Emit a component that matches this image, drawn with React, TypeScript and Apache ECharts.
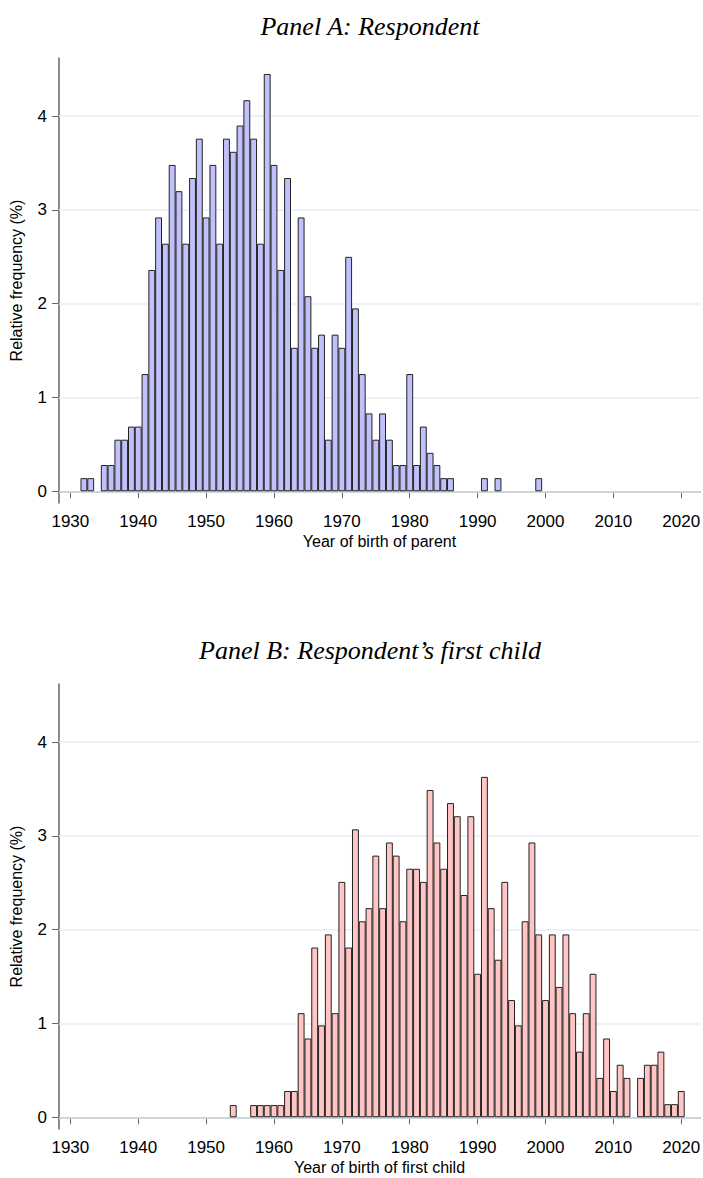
import { useEffect, useRef } from 'react';
import * as echarts from 'echarts';

const parentStartYear = 1932;
// relative frequency (%) per birth year, 1932..1999
const parentValues = [
  0.14, 0.14, 0, 0.28, 0.28, 0.55, 0.55, 0.69, 0.69, 1.25,
  2.36, 2.92, 2.64, 3.48, 3.2, 2.64, 3.34, 3.76, 2.92, 3.48,
  2.64, 3.76, 3.62, 3.9, 4.17, 3.76, 2.64, 4.45, 3.48, 2.36,
  3.34, 1.53, 2.92, 2.08, 1.53, 1.67, 0.55, 1.67, 1.53, 2.5,
  1.95, 1.25, 0.83, 0.55, 0.83, 0.55, 0.28, 0.28, 1.25, 0.28,
  0.69, 0.41, 0.28, 0.14, 0.14, 0, 0, 0, 0, 0.14,
  0, 0.14, 0, 0, 0, 0, 0, 0.14,
];

const childStartYear = 1954;
// relative frequency (%) per birth year, 1954..2020
const childValues = [
  0.13, 0, 0, 0.13, 0.13, 0.13, 0.13, 0.13, 0.28, 0.28,
  1.11, 0.84, 1.81, 0.98, 1.95, 1.11, 2.51, 1.81, 3.07, 2.09,
  2.23, 2.79, 2.23, 2.93, 2.79, 2.09, 2.65, 2.65, 2.51, 3.49,
  2.93, 2.65, 3.35, 3.21, 2.37, 3.21, 1.53, 3.63, 2.23, 1.68,
  2.51, 1.25, 0.98, 2.09, 2.93, 1.95, 1.25, 1.95, 1.39, 1.95,
  1.11, 0.7, 1.11, 1.53, 0.42, 0.84, 0.28, 0.56, 0.42, 0,
  0.42, 0.56, 0.56, 0.7, 0.14, 0.14, 0.28,
];

const xTicks = [1930, 1940, 1950, 1960, 1970, 1980, 1990, 2000, 2010, 2020];
const yTicks = [0, 1, 2, 3, 4];

const toPairs = (start: number, vals: number[]) =>
  vals.map((v, i) => [start + i, v]).filter((p) => p[1] > 0);

const SANS = '"Liberation Sans", Arial, sans-serif';
const SERIF = '"Liberation Serif", "Times New Roman", serif';

export default function App() {
  const ref = useRef<HTMLDivElement>(null);

  useEffect(() => {
    document.body.style.margin = '0';
    if (!ref.current) return;
    const chart = echarts.init(ref.current, undefined, { renderer: 'svg' });

    const xAxis = (idx: number, name: string) => ({
      type: 'value',
      gridIndex: idx,
      min: 1928.33,
      max: 2022.76,
      name,
      nameLocation: 'middle',
      nameGap: 30,
      nameTextStyle: { fontFamily: SANS, fontSize: 16, color: '#000' },
      axisLine: { show: true, lineStyle: { color: '#666', width: 1.5 } },
      axisTick: { show: true, length: 7, customValues: xTicks, lineStyle: { color: '#666' } },
      axisLabel: {
        customValues: xTicks,
        formatter: (v: number) => String(v),
        fontFamily: SANS,
        fontSize: 17,
        color: '#000',
        margin: 10,
      },
      splitLine: { show: false },
    });

    const yAxis = (idx: number) => ({
      type: 'value',
      gridIndex: idx,
      min: -0.125,
      max: 4.62,
      name: 'Relative frequency (%)',
      nameLocation: 'middle',
      nameGap: 35,
      nameTextStyle: { fontFamily: SANS, fontSize: 16, color: '#000' },
      axisLine: { show: true, lineStyle: { color: '#666', width: 1.5 } },
      axisTick: { show: true, length: 7, customValues: yTicks, lineStyle: { color: '#666' } },
      axisLabel: { customValues: yTicks, fontFamily: SANS, fontSize: 17, color: '#000', margin: 12 },
      splitLine: { show: false },
    });

    const gridLines = (idx: number) => ({
      type: 'line',
      xAxisIndex: idx,
      yAxisIndex: idx,
      data: [],
      z: 1,
      silent: true,
      markLine: {
        z: 1,
        silent: true,
        symbol: 'none',
        label: { show: false },
        lineStyle: { color: '#e6eef2', width: 1.5, type: 'solid' },
        data: yTicks.map((t) => ({ yAxis: t })),
      },
    });

    const bars = (idx: number, data: number[][], fill: string) => ({
      type: 'bar',
      xAxisIndex: idx,
      yAxisIndex: idx,
      data,
      barWidth: 6.88,
      z: 3,
      itemStyle: { color: fill, borderColor: '#222', borderWidth: 1 },
    });

    chart.setOption({
      animation: false,
      backgroundColor: '#fff',
      title: [
        {
          text: 'Panel A: Respondent',
          left: 365,
          top: 8,
          textAlign: 'center',
          textStyle: { fontFamily: SERIF, fontStyle: 'italic', fontWeight: 'normal', fontSize: 26, color: '#000' },
        },
        {
          text: 'Panel B: Respondent\u2019s first child',
          left: 365,
          top: 632,
          textAlign: 'center',
          textStyle: { fontFamily: SERIF, fontStyle: 'italic', fontWeight: 'normal', fontSize: 26, color: '#000' },
        },
      ],
      grid: [
        { left: 53, top: 58, width: 650, height: 445 },
        { left: 53, top: 684, width: 650, height: 445 },
      ],
      xAxis: [xAxis(0, 'Year of birth of parent'), xAxis(1, 'Year of birth of first child')],
      yAxis: [yAxis(0), yAxis(1)],
      series: [
        gridLines(0),
        gridLines(1),
        bars(0, toPairs(parentStartYear, parentValues), '#c0c0fa'),
        bars(1, toPairs(childStartYear, childValues), '#ffc4c4'),
      ],
    });

    return () => chart.dispose();
  }, []);

  return <div ref={ref} style={{ width: 703, height: 1178 }} />;
}
